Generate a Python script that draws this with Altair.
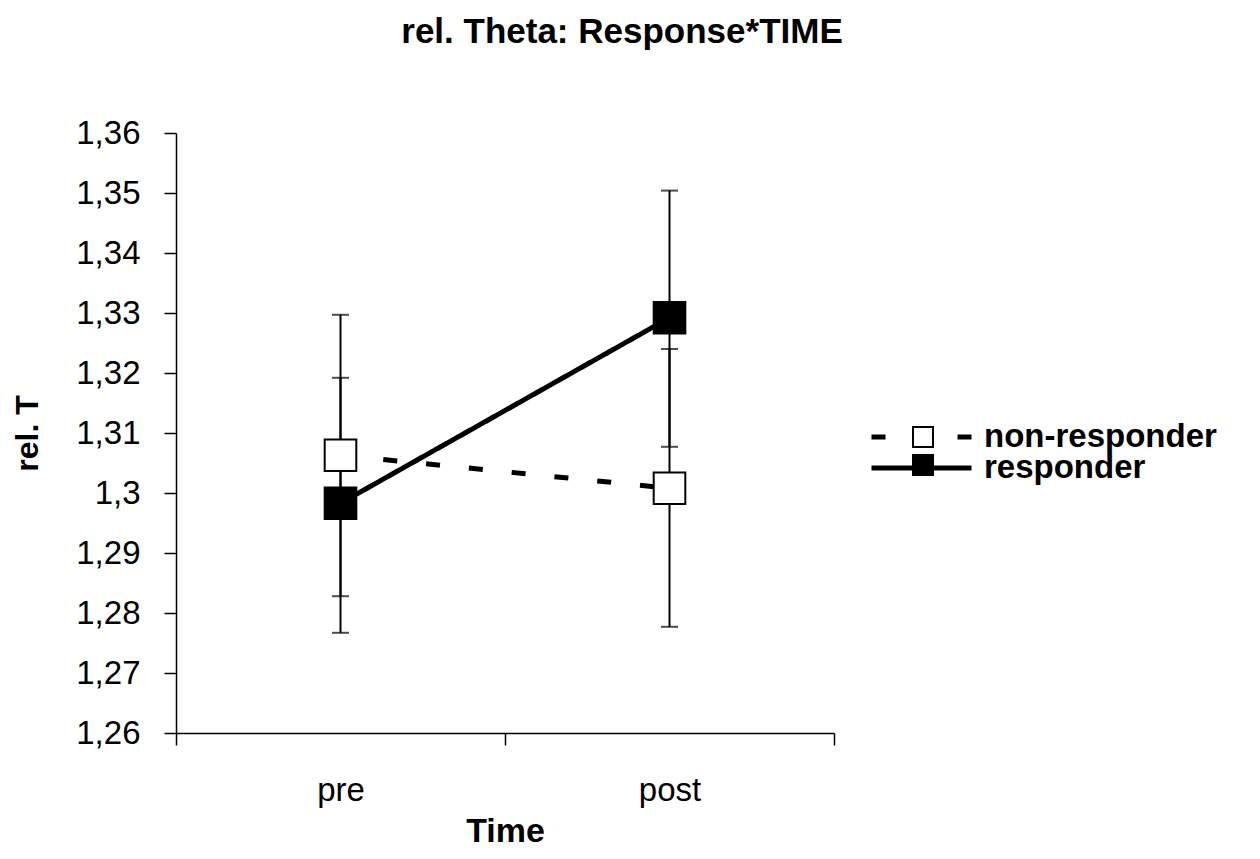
import altair as alt
import pandas as pd

# ---- data ----
times = ["pre", "post"]
groups = ["non-responder", "responder"]
nonresp_mean = [1.3063, 1.3008]
nonresp_low = [1.2828, 1.2777]
nonresp_high = [1.3297, 1.3240]
resp_mean = [1.2983, 1.3292]
resp_low = [1.2767, 1.3077]
resp_high = [1.3192, 1.3504]
y_ticks = [1.26, 1.27, 1.28, 1.29, 1.30, 1.31, 1.32, 1.33, 1.34, 1.35, 1.36]

rows = []
for g, m, lo, hi in [
    (groups[0], nonresp_mean, nonresp_low, nonresp_high),
    (groups[1], resp_mean, resp_low, resp_high),
]:
    for i, t in enumerate(times):
        rows.append({"time": t, "group": g, "grp": g, "mean": m[i], "low": lo[i], "high": hi[i]})
df = pd.DataFrame(rows)

FONT = "Liberation Sans"

xenc = alt.X(
    "time:N",
    scale=alt.Scale(type="band", domain=times, paddingInner=0, paddingOuter=0),
    axis=alt.Axis(
        title="Time",
        tickBand="extent",
        labelAngle=0,
        labelFont=FONT,
        labelFontSize=33,
        labelColor="black",
        labelBaseline="alphabetic",
        labelPadding=55,
        tickSize=12,
        tickColor="black",
        tickWidth=1.5,
        domainColor="black",
        domainWidth=1.5,
        titleFont=FONT,
        titleFontSize=34,
        titleFontWeight="bold",
        titleColor="black",
        titleBaseline="alphabetic",
        titleY=108,
        grid=False,
    ),
)

yscale = alt.Scale(domain=[1.26, 1.36], zero=False, nice=False)
yaxis = alt.Axis(
    title="rel. T",
    values=y_ticks,
    labelExpr="replace(toString(round(datum.value*100)/100), '.', ',')",
    labelFont=FONT,
    labelFontSize=33,
    labelColor="black",
    labelPadding=24,
    tickSize=12,
    tickColor="black",
    tickWidth=1.5,
    domainColor="black",
    domainWidth=1.5,
    titleFont=FONT,
    titleFontSize=32,
    titleFontWeight="bold",
    titleColor="black",
    titleAngle=270,
    titleAlign="center",
    titleBaseline="middle",
    titleX=-149,
    titleY=300,
    grid=False,
)

base = alt.Chart(df)

bars = base.mark_rule(color="black", strokeWidth=2).encode(
    x=xenc,
    y=alt.Y("low:Q", scale=yscale, axis=yaxis),
    y2="high:Q",
)
cap_lo = base.mark_tick(color="black", size=17, thickness=2).encode(
    x=xenc, y=alt.Y("low:Q", scale=yscale)
)
cap_hi = base.mark_tick(color="black", size=17, thickness=2).encode(
    x=xenc, y=alt.Y("high:Q", scale=yscale)
)

lines = base.mark_line(color="black", strokeWidth=5).encode(
    x=xenc,
    y=alt.Y("mean:Q", scale=yscale),
    strokeDash=alt.StrokeDash(
        "group:N",
        scale=alt.Scale(domain=groups, range=[[14, 29], [1, 0]]),
        legend=alt.Legend(
            title=None,
            orient="none",
            legendX=693,
            legendY=290,
            padding=0,
            symbolType="stroke",
            symbolSize=10000,
            symbolStrokeWidth=5,
            symbolStrokeColor="black",
            clipHeight=28,
            rowPadding=-5,
            labelFont=FONT,
            labelFontSize=33,
            labelFontWeight="bold",
            labelColor="black",
            labelOffset=10,
            labelLimit=0,
        ),
    ),
    detail="group:N",
)

points = base.mark_square(size=1000, stroke="black", strokeWidth=2, opacity=1).encode(
    x=xenc,
    y=alt.Y("mean:Q", scale=yscale),
    fill=alt.Fill(
        "grp:N",
        scale=alt.Scale(range=["white", "black"]),
        legend=alt.Legend(
            title=None,
            orient="none",
            legendX=736,
            legendY=290,
            padding=0,
            symbolType="square",
            symbolSize=400,
            symbolStrokeWidth=2,
            symbolStrokeColor="black",
            symbolOpacity=1,
            clipHeight=28,
            rowPadding=0,
            labelExpr="''",
            labelOffset=0,
        ),
    ),
)

chart = (
    alt.layer(bars, cap_lo, cap_hi, lines, points)
    .properties(
        width=658,
        height=600,
        padding={"left": 168, "top": 125, "right": 418, "bottom": 114},
        autosize=alt.AutoSizeParams(type="none"),
        title=alt.TitleParams(
            "rel. Theta: Response*TIME",
            font=FONT,
            fontSize=35,
            fontWeight="bold",
            color="black",
            anchor="middle",
            frame="group",
            dx=117,
            baseline="alphabetic",
            offset=39,
        ),
        background="white",
    )
    .configure_view(stroke=None)
)

chart.save("out.html", embed_options={"renderer": "svg", "actions": False})
